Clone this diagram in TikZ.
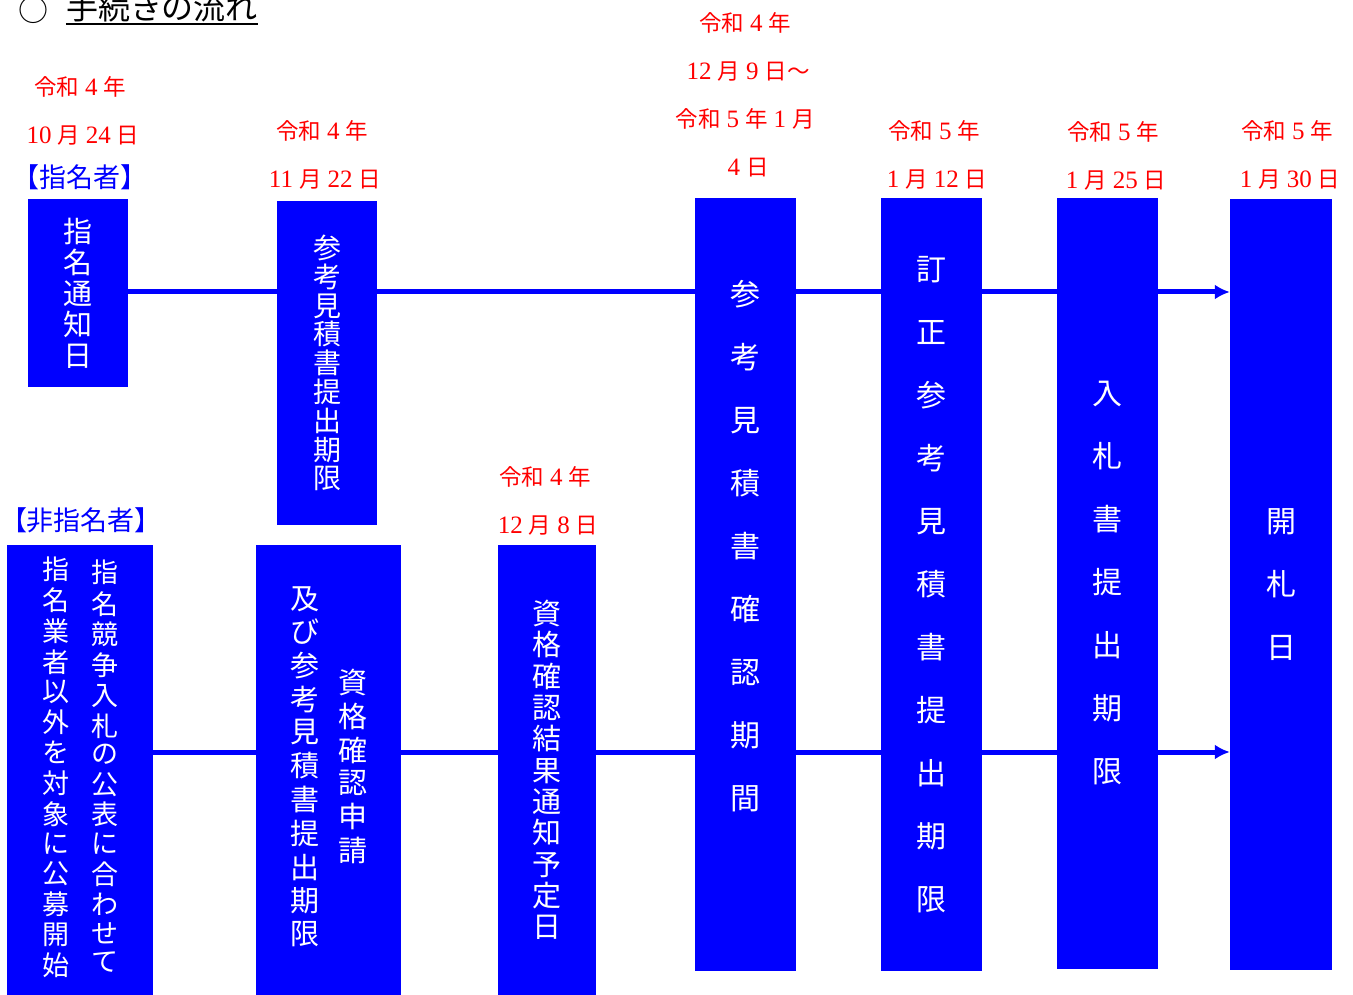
\documentclass[tikz,border=0pt]{standalone}
\usepackage{fontspec}
\setmainfont{Noto Sans CJK JP}
\newfontfamily\numfont{Liberation Serif}
\usetikzlibrary{arrows.meta,positioning}

\newcommand{\nm}[1]{\hspace{6pt}{\numfont\fontsize{25}{48}\selectfont #1}\hspace{6pt}}
\newcommand{\vcol}[1]{\begin{tabular}[c]{@{}c@{}}#1\end{tabular}}

\begin{document}
\begin{tikzpicture}[x=1pt,y=-1pt]
\tikzstyle{stage} = [
	shape=rectangle,
	fill=blue, %solid box
	text=white,
	inner sep=0pt,
	align=center
];
\tikzstyle{date} = [text=red, align=center, inner sep=0pt, font=\fontsize{22.5}{48}\selectfont];
\tikzstyle{group} = [text=blue, inner sep=0pt, font=\fontsize{27}{30}\selectfont];
\tikzstyle{wire} = [line width=5pt, color=blue];

\useasboundingbox (0,0) rectangle (1353,995);

%title
\node[inner sep=0pt, font=\fontsize{30}{32}\selectfont](mark) at (34,10) {○};
\node[inner sep=0pt, anchor=base, font=\fontsize{32}{34}\selectfont](title) at (162,20) {手続きの流れ};
\draw[line width=2pt] ([yshift=-4pt]title.base west) -- ([yshift=-4pt]title.base east);

%designated
\node[group](nominee) at (80,177) {【指名者】};
\node[date](d1) at (80,111) {令和\nm{4}年\\\nm{10}月\nm{24}日};
\node[stage, minimum width=100pt, minimum height=188pt, font=\fontsize{29}{31}\selectfont](n1) at (78,293)
	{指\\名\\通\\知\\日};

\node[date](d2) at (322,155) {令和\nm{4}年\\\nm{11}月\nm{22}日};
\node[stage, minimum width=100pt, minimum height=324pt, font=\fontsize{28}{28.8}\selectfont](n2) at (327,363)
	{参\\考\\見\\積\\書\\提\\出\\期\\限};

%shared columns
\node[date](d3) at (745,95) {令和\nm{4}年\\\nm{12}月\nm{9}日～\\令和\nm{5}年\nm{1}月\\\nm{4}日};
\node[stage, minimum width=101pt, minimum height=773pt, font=\fontsize{30}{63}\selectfont](n3) at (745.5,584.5)
	{参\\考\\見\\積\\書\\確\\認\\期\\間\\[17pt]\mbox{}};

\node[date](d4) at (934,155) {令和\nm{5}年\\\nm{1}月\nm{12}日};
\node[stage, minimum width=101pt, minimum height=773pt, font=\fontsize{30}{63}\selectfont](n4) at (931.5,584.5)
	{訂\\正\\参\\考\\見\\積\\書\\提\\出\\期\\限};

\node[date](d5) at (1113,156) {令和\nm{5}年\\\nm{1}月\nm{25}日};
\node[stage, minimum width=101pt, minimum height=771pt, font=\fontsize{30}{63}\selectfont](n5) at (1107.5,583.5)
	{入\\札\\書\\提\\出\\期\\限};

\node[date](d6) at (1287,155) {令和\nm{5}年\\\nm{1}月\nm{30}日};
\node[stage, minimum width=102pt, minimum height=771pt, font=\fontsize{30}{63}\selectfont](n6) at (1281,584.5)
	{開\\札\\日};

%non-designated
\node[group](others) at (81,520) {【非指名者】};
\node[stage, minimum width=146pt, minimum height=450pt, font=\fontsize{27}{27.6}\selectfont](n7) at (80,770)
	{\begin{tabular}{@{}c@{\hspace{22pt}}c@{}}
	\vcol{指\\名\\業\\者\\以\\外\\を\\対\\象\\に\\公\\募\\開\\始} &
	\vcol{指\\名\\競\\争\\入\\札\\の\\公\\表\\に\\合\\わ\\せ\\て}
	\end{tabular}};

\node[stage, minimum width=145pt, minimum height=450pt, font=\fontsize{29}{31.5}\selectfont](n8) at (328.5,770)
	{\begin{tabular}{@{}c@{\hspace{19pt}}c@{}}
	\vcol{及\\び\\参\\考\\見\\積\\書\\提\\出\\期\\限} &
	\vcol{資\\格\\確\\認\\申\\請}
	\end{tabular}};

\node[date](d9) at (545,501) {令和\nm{4}年\\\nm{12}月\nm{8}日};
\node[stage, minimum width=98pt, minimum height=450pt, font=\fontsize{29}{31.3}\selectfont](n9) at (547,770)
	{資\\格\\確\\認\\結\\果\\通\\知\\予\\定\\日};

\coordinate (toprow) at (0,292);
\coordinate (botrow) at (0,752);

%designated flow
\draw[wire]
	(n1.east |- toprow) edge[] (n2.west |- toprow)
	(n2.east |- toprow) edge[] (n3.west |- toprow)
	(n3.east |- toprow) edge[] (n4.west |- toprow)
	(n4.east |- toprow) edge[] (n5.west |- toprow)
;
\draw[wire, -{Latex[length=15pt,width=15pt]}] (n5.east |- toprow) -- (n6.west |- toprow);

%non-designated flow
\draw[wire]
	(n7.east |- botrow) edge[] (n8.west |- botrow)
	(n8.east |- botrow) edge[] (n9.west |- botrow)
	(n9.east |- botrow) edge[] (n3.west |- botrow)
	(n3.east |- botrow) edge[] (n4.west |- botrow)
	(n4.east |- botrow) edge[] (n5.west |- botrow)
;
\draw[wire, -{Latex[length=15pt,width=15pt]}] (n5.east |- botrow) -- (n6.west |- botrow);

\end{tikzpicture}
\end{document}
